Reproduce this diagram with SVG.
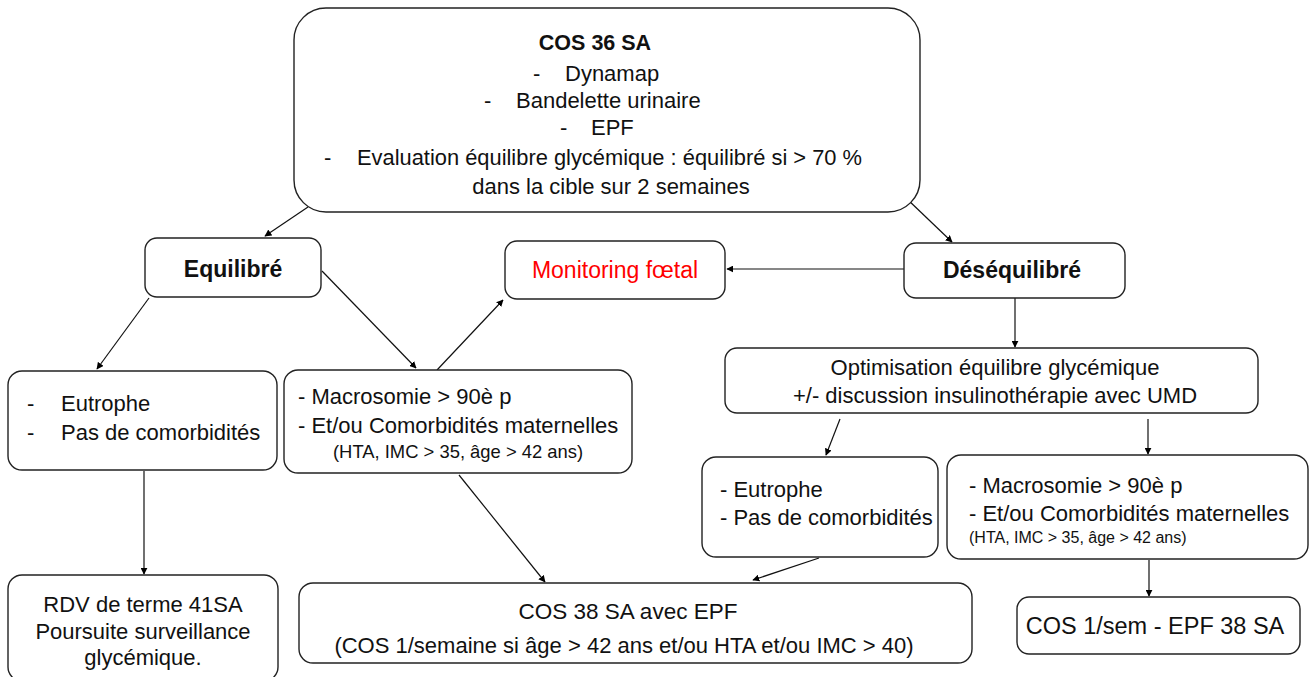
<svg xmlns="http://www.w3.org/2000/svg" width="1311" height="677" viewBox="0 0 1311 677">
<defs>
<marker id="ah" viewBox="0 0 10 10" refX="9" refY="5" markerWidth="7" markerHeight="7" markerUnits="userSpaceOnUse" orient="auto">
<path d="M0,0 L10,5 L0,10 z" fill="#000"/>
</marker>
<style>
.box{fill:#fff;stroke:#222;stroke-width:1.4}
text{font-family:"Liberation Sans",Arial,sans-serif;fill:#111;font-size:22px}
.b{font-weight:bold}
.h{font-size:23px}
.c{text-anchor:middle}
.s{font-size:18.4px}
.xs{font-size:16px}
.red{fill:#ff0000}
.ln{stroke:#111;stroke-width:1.2;fill:none;marker-end:url(#ah)}
</style>
</defs>
<rect width="1311" height="677" fill="#fff"/>

<g id="connectors">
<line class="ln" x1="308" y1="207" x2="265" y2="236"/>
<line class="ln" x1="906" y1="198" x2="952" y2="242"/>
<line class="ln" x1="904" y1="269" x2="727" y2="269"/>
<line class="ln" x1="149" y1="298" x2="97" y2="369"/>
<line class="ln" x1="322" y1="271" x2="416" y2="368"/>
<line class="ln" x1="437" y1="370" x2="503" y2="300"/>
<line class="ln" x1="1015" y1="298" x2="1015" y2="347"/>
<line class="ln" x1="840" y1="419" x2="826" y2="455"/>
<line class="ln" x1="1148" y1="419" x2="1148" y2="454"/>
<line class="ln" x1="144" y1="471" x2="144" y2="574"/>
<line class="ln" x1="459" y1="475" x2="545" y2="582"/>
<line class="ln" x1="819" y1="558" x2="753" y2="580"/>
<line class="ln" x1="1149" y1="560" x2="1149" y2="596"/>
</g>

<g id="n-cos36">
<rect class="box" x="294" y="8" width="626" height="204" rx="32"/>
<text class="b c" x="595" y="50" style="font-size:21.5px">COS 36 SA</text>
<text x="533" y="81">-</text><text x="565" y="81">Dynamap</text>
<text x="484" y="108">-</text><text x="516" y="108">Bandelette urinaire</text>
<text x="560" y="135">-</text><text x="591" y="135">EPF</text>
<text x="324" y="165">-</text><text x="357" y="165" textLength="505" lengthAdjust="spacingAndGlyphs">Evaluation équilibre glycémique : équilibré si &gt; 70 %</text>
<text class="c" x="611" y="194">dans la cible sur 2 semaines</text>
</g>

<g id="n-equilibre">
<rect class="box" x="145" y="238" width="176" height="59" rx="12"/>
<text class="b c h" x="233" y="277">Equilibré</text>
</g>

<g id="n-monitoring">
<rect class="box" x="505" y="241" width="220" height="58" rx="12"/>
<text class="c red h" x="615" y="278">Monitoring fœtal</text>
</g>

<g id="n-desequilibre">
<rect class="box" x="904" y="243" width="221" height="55" rx="12"/>
<text class="b c h" x="1012" y="278">Déséquilibré</text>
</g>

<g id="n-eutrophe-l">
<rect class="box" x="8" y="371" width="269" height="99" rx="14"/>
<text x="27" y="411">-</text><text x="61" y="411">Eutrophe</text>
<text x="27" y="440">-</text><text x="61" y="440">Pas de comorbidités</text>
</g>

<g id="n-macro-l">
<rect class="box" x="284" y="370" width="348" height="103" rx="14"/>
<text x="298" y="404">- Macrosomie &gt; 90è p</text>
<text x="298" y="433">- Et/ou Comorbidités maternelles</text>
<text class="s" x="333" y="458">(HTA, IMC &gt; 35, âge &gt; 42 ans)</text>
</g>

<g id="n-optim">
<rect class="box" x="725" y="348" width="533" height="65" rx="12"/>
<text class="c" x="995" y="375">Optimisation équilibre glycémique</text>
<text class="c" x="995" y="403">+/- discussion insulinothérapie avec UMD</text>
</g>

<g id="n-eutrophe-r">
<rect class="box" x="702" y="457" width="236" height="100" rx="14"/>
<text x="720" y="497">- Eutrophe</text>
<text x="720" y="525">- Pas de comorbidités</text>
</g>

<g id="n-macro-r">
<rect class="box" x="947" y="455" width="361" height="104" rx="14"/>
<text x="969" y="493">- Macrosomie &gt; 90è p</text>
<text x="969" y="521">- Et/ou Comorbidités maternelles</text>
<text class="xs" x="969" y="543">(HTA, IMC &gt; 35, âge &gt; 42 ans)</text>
</g>

<g id="n-rdv">
<rect class="box" x="8" y="575" width="270" height="106" rx="14"/>
<text class="c" x="143" y="612">RDV de terme 41SA</text>
<text class="c" x="143" y="639">Poursuite surveillance</text>
<text class="c" x="143" y="665">glycémique.</text>
</g>

<g id="n-cos38">
<rect class="box" x="299" y="583" width="673" height="80" rx="14"/>
<text class="c" x="628" y="619" style="font-size:22.5px">COS 38 SA avec EPF</text>
<text class="c" x="624" y="653">(COS 1/semaine si âge &gt; 42 ans et/ou HTA et/ou IMC &gt; 40)</text>
</g>

<g id="n-cos1sem">
<rect class="box" x="1017" y="597" width="283" height="57" rx="12"/>
<text class="c" x="1155" y="634" style="font-size:23.5px">COS 1/sem - EPF 38 SA</text>
</g>
</svg>
